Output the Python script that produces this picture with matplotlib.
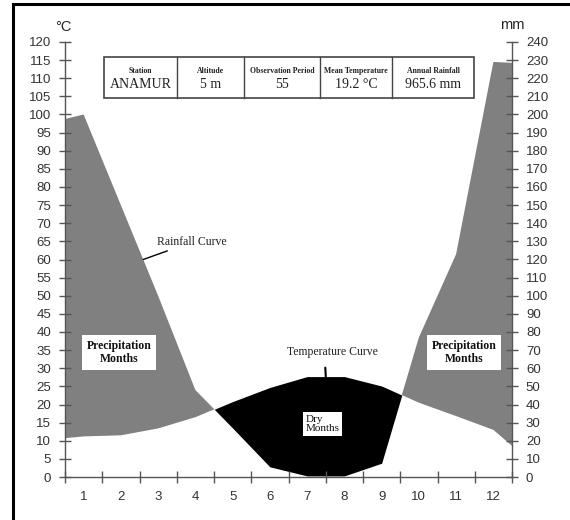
import numpy as np
import matplotlib
matplotlib.use("Agg")
import matplotlib.pyplot as plt
from matplotlib.lines import Line2D

# ---------------- data ----------------
months = [1, 2, 3, 4, 5, 6, 7, 8, 9, 10, 11, 12]
temp_c = [11.2, 11.5, 13.4, 16.5, 20.8, 24.7, 27.7, 27.7, 25.1, 20.5, 16.8, 13.0]
rain_mm = [200, 150, 100, 48, 27, 5.6, 0.6, 0.6, 7.6, 77, 123, 229]
temp_edges = [10.7, 8.6]          # values at the left / right border of the chart
rain_edges_mm = [197.5, 228.5]
table_headers = ["Station", "Altitude", "Observation Period", "Mean Temperature", "Annual Rainfall"]
table_values = ["ANAMUR", "5 m", "55", "19.2 \u00b0C", "965.6 mm"]
left_ticks = list(range(0, 121, 5))
right_ticks = list(range(0, 241, 10))

SERIF = "Liberation Serif"
SANS = "Liberation Sans"
TXT = "#333333"
GREY = "#808080"

# ---------------- build curves ----------------
n = len(months)
x = np.concatenate([[0], np.array(months) - 0.5, [n]])
temp = np.concatenate([[temp_edges[0]], temp_c, [temp_edges[1]]])
rain = np.concatenate([[rain_edges_mm[0]], rain_mm, [rain_edges_mm[1]]]) / 2.0  # mm -> left scale
xf = np.linspace(0, n, 2401)
tf = np.interp(xf, x, temp)
rf = np.interp(xf, x, rain)

fig = plt.figure(figsize=(5.7, 5.2), dpi=100)
ax = fig.add_axes([65 / 570, 1 - 477 / 520, (512 - 65) / 570, (477 - 42) / 520])
ax2 = ax.twinx()

ax.fill_between(xf, tf, rf, where=rf >= tf, interpolate=True, color=GREY, lw=0)
ax.fill_between(xf, tf, rf, where=tf >= rf, interpolate=True, color="black", lw=0)

ax.set_xlim(0, n)
ax.set_ylim(0, 120)
ax2.set_ylim(0, 240)

for s in ["top", "right"]:
    ax.spines[s].set_visible(False)
for s in ["top", "left", "bottom"]:
    ax2.spines[s].set_visible(False)
for sp in [ax.spines["left"], ax.spines["bottom"], ax2.spines["right"]]:
    sp.set_color("#555555")
    sp.set_linewidth(1.0)

ax.set_yticks(left_ticks)
ax.set_yticklabels([str(v) for v in left_ticks])
ax2.set_yticks(right_ticks)
ax2.set_yticklabels([str(v) for v in right_ticks])
ax.set_xticks(range(0, n + 1))
ax.set_xticklabels([])
ax.set_xticks(np.array(months) - 0.5, minor=True)
ax.set_xticklabels([str(m) for m in months], minor=True)

ax.tick_params(axis="y", direction="inout", length=8, width=1, color="#555555",
               labelsize=9.5, labelcolor=TXT, pad=6)
ax2.tick_params(axis="y", direction="inout", length=8, width=1, color="#555555",
                labelsize=9.5, labelcolor=TXT, pad=6)
ax.tick_params(axis="x", which="major", direction="inout", length=8, width=1, color="#555555")
ax.tick_params(axis="x", which="minor", length=0, labelsize=9.5, labelcolor=TXT, pad=10)
for lab in ax.get_yticklabels() + ax2.get_yticklabels() + ax.get_xticklabels(minor=True):
    lab.set_fontfamily(SANS)

# unit labels
fig.text(63 / 570, 1 - 27 / 520, "\u00b0C", ha="center", va="center", fontsize=10.5,
         family=SANS, color="#222222")
fig.text(512 / 570, 1 - 25 / 520, "mm", ha="center", va="center", fontsize=10.5,
         family=SANS, color="#222222")

# ---------------- annotations ----------------
xr = 2.10
ax.annotate("Rainfall Curve", xy=(xr, np.interp(xr, x, rain)), xytext=(2.47, 64.8),
            ha="left", va="center", fontsize=8.5, family=SERIF, color="#222222",
            arrowprops=dict(arrowstyle="-", color="black", lw=1, shrinkA=0, shrinkB=0))
xt = 7.0
ax.annotate("Temperature Curve", xy=(xt, np.interp(xt, x, temp)), xytext=(7.17, 34.5),
            ha="center", va="center", fontsize=8.5, family=SERIF, color="#222222",
            arrowprops=dict(arrowstyle="-", color="black", lw=1.5, shrinkA=5, shrinkB=0,
                            relpos=(0.42, 0.0)))

box = dict(boxstyle="square,pad=0.4", fc="white", ec="none")
for cx in [1.45, 10.72]:
    ax.text(cx, 34.3, "Precipitation\nMonths", ha="center", va="center", fontsize=8.5,
            family=SERIF, weight="bold", multialignment="center", bbox=box, color="#111111",
            linespacing=1.1)
ax.text(6.91, 14.6, "Dry\nMonths", ha="center", va="center", fontsize=8,
        family=SERIF, multialignment="left", color="#111111", linespacing=1.1,
        bbox=dict(boxstyle="square,pad=0.25", fc="white", ec="none"))

# ---------------- info table ----------------
tx0, tx1 = 104 / 570, 474 / 570
ty0, ty1 = 1 - 98 / 520, 1 - 57 / 520
cols = [104, 177, 244, 320, 392, 474]
fig.patches.append(plt.Rectangle((tx0, ty0), tx1 - tx0, ty1 - ty0, transform=fig.transFigure,
                                 fc="white", ec="#444444", lw=1.2, zorder=5))
for c in cols[1:-1]:
    fig.lines.append(Line2D([c / 570, c / 570], [ty0, ty1], transform=fig.transFigure,
                            color="#444444", lw=1.0, zorder=6))
for i in range(5):
    cx = (cols[i] + cols[i + 1]) / 2 / 570
    fig.text(cx, 1 - 71 / 520, table_headers[i], ha="center", va="center", fontsize=5.6,
             family=SERIF, weight="bold", color="#222222", zorder=7)
    fig.text(cx, 1 - 85 / 520, table_values[i], ha="center", va="center", fontsize=10,
             family=SERIF, color="#222222", zorder=7)

# ---------------- outer frame ----------------
fx, fy = 13 / 570, 1 - 4 / 520
fig.lines.append(Line2D([fx, fx], [-0.01, fy], transform=fig.transFigure, color="black", lw=2.2))
fig.lines.append(Line2D([fx, 1.01], [fy, fy], transform=fig.transFigure, color="black", lw=2.2))

fig.savefig("out.png", dpi=100, facecolor="white")
